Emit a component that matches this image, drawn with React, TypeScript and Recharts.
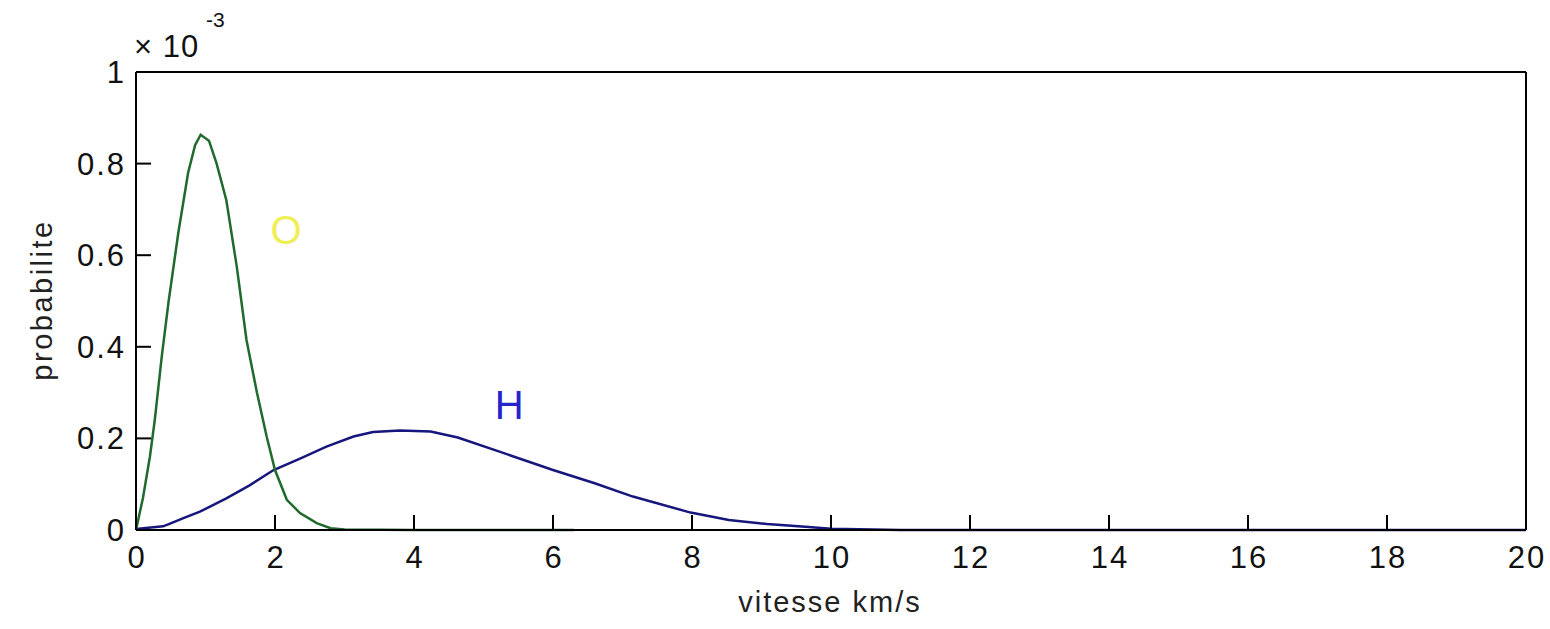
import React from 'react';
import { LineChart, Line, XAxis, YAxis, ReferenceDot } from 'recharts';

// speeds in km/s, probabilities in units of 1e-3
const oSpeed = [0, 0.1, 0.2, 0.27, 0.37, 0.47, 0.61, 0.75, 0.85, 0.93, 1.05, 1.16, 1.3, 1.45, 1.59, 1.74, 1.88, 2.0, 2.17, 2.36, 2.6, 2.8, 3.0, 4.0, 5.0, 6.3];
const oProb = [0, 0.07, 0.16, 0.24, 0.378, 0.5, 0.65, 0.78, 0.84, 0.863, 0.85, 0.8, 0.72, 0.575, 0.415, 0.3, 0.204, 0.131, 0.066, 0.037, 0.015, 0.004, 0.001, 0, 0, 0];

const hSpeed = [0, 0.39, 0.49, 0.7, 0.92, 1.3, 1.64, 1.98, 2.36, 2.74, 3.13, 3.41, 3.8, 4.24, 4.63, 5.23, 6.0, 6.6, 7.15, 7.98, 8.53, 9.08, 9.63, 10, 11, 12, 14, 16, 18, 20];
const hProb = [0.002, 0.008, 0.014, 0.027, 0.04, 0.069, 0.098, 0.131, 0.156, 0.182, 0.204, 0.214, 0.217, 0.215, 0.202, 0.171, 0.131, 0.102, 0.073, 0.038, 0.022, 0.013, 0.007, 0.003, 0, 0, 0, 0, 0, 0];

const xTicks = [0, 2, 4, 6, 8, 10, 12, 14, 16, 18, 20];
const yTicks = [0, 0.2, 0.4, 0.6, 0.8, 1];

const oData = oSpeed.map((v, i) => ({ v, p: oProb[i] }));
const hData = hSpeed.map((v, i) => ({ v, p: hProb[i] }));

const FONT = '"Liberation Sans", Arial, sans-serif';
const TICK = 15;
const XMARGIN = 16;
const YMARGIN = 12;

const BottomTick = (props: any) => {
  const { x, y, payload } = props;
  return (
    <g>
      <line x1={x} x2={x} y1={y - XMARGIN} y2={y - XMARGIN - TICK} stroke="#000" strokeWidth={2} />
      <text x={x + 1} y={y} dy="0.71em" textAnchor="middle" fontSize={31} letterSpacing={2} fontFamily={FONT} fill="#111">
        {payload.value}
      </text>
    </g>
  );
};

const TopTick = (props: any) => {
  const { x, y } = props;
  return <line x1={x} x2={x} y1={y} y2={y + TICK} stroke="#000" strokeWidth={2} />;
};

const LeftTick = (props: any) => {
  const { x, y, payload } = props;
  return (
    <g>
      <line x1={x + YMARGIN} x2={x + YMARGIN + TICK} y1={y} y2={y} stroke="#000" strokeWidth={2} />
      <text x={x + 2} y={y} dy="0.355em" textAnchor="end" fontSize={31} letterSpacing={2} fontFamily={FONT} fill="#111">
        {payload.value}
      </text>
    </g>
  );
};

const RightTick = (props: any) => {
  const { x, y } = props;
  return <line x1={x} x2={x - TICK} y1={y} y2={y} stroke="#000" strokeWidth={2} />;
};

export default function App() {
  return (
    <div style={{ position: 'absolute', left: 0, top: 0, width: 1550, height: 629, background: '#fff' }}>
      <LineChart width={1550} height={629} margin={{ top: 70, right: 22, bottom: 0, left: 0 }}>
        <XAxis
          dataKey="v"
          type="number"
          domain={[0, 20]}
          ticks={xTicks}
          height={99}
          tickSize={0}
          tickMargin={XMARGIN}
          tickLine={false}
          tick={<BottomTick />}
          axisLine={{ stroke: '#000', strokeWidth: 2 }}
          allowDuplicatedCategory={false}
        />
        <XAxis
          xAxisId="top"
          orientation="top"
          dataKey="v"
          type="number"
          domain={[0, 20]}
          ticks={xTicks}
          height={2}
          tickSize={0}
          tickMargin={0}
          tickLine={false}
          tick={<TopTick />}
          axisLine={{ stroke: '#000', strokeWidth: 2 }}
        />
        <YAxis
          type="number"
          domain={[0, 1]}
          ticks={yTicks}
          width={136}
          tickSize={0}
          tickMargin={YMARGIN}
          tickLine={false}
          tick={<LeftTick />}
          axisLine={{ stroke: '#000', strokeWidth: 2 }}
        />
        <YAxis
          yAxisId="right"
          orientation="right"
          type="number"
          domain={[0, 1]}
          ticks={yTicks}
          width={2}
          tickSize={0}
          tickMargin={0}
          tickLine={false}
          tick={<RightTick />}
          axisLine={{ stroke: '#000', strokeWidth: 2 }}
        />
        <Line data={hData} dataKey="p" type="linear" stroke="#16167c" strokeWidth={2.5} dot={false} isAnimationActive={false} />
        <Line data={oData} dataKey="p" type="linear" stroke="#1f6a2c" strokeWidth={2.5} dot={false} isAnimationActive={false} />
        <ReferenceDot x={2.16} y={0.655} r={0} fill="none" stroke="none"
          label={{ value: 'O', fill: '#f0ee55', fontSize: 40, fontFamily: FONT, position: 'center' }} />
        <ReferenceDot x={5.37} y={0.273} r={0} fill="none" stroke="none"
          label={{ value: 'H', fill: '#2424cc', fontSize: 40, fontFamily: FONT, position: 'center' }} />
      </LineChart>
      <svg width={1550} height={629} style={{ position: 'absolute', left: 0, top: 0, pointerEvents: 'none' }}>
        <text x={134} y={57} fontSize={31} letterSpacing={1} fontFamily={FONT} fill="#111">× 10</text>
        <text x={206} y={27} fontSize={21} fontFamily={FONT} fill="#111">-3</text>
        <text x={830} y={612} textAnchor="middle" fontSize={29} letterSpacing={2} fontFamily={FONT} fill="#222">vitesse km/s</text>
        <text x={52} y={300} textAnchor="middle" fontSize={29} letterSpacing={2.5} fontFamily={FONT} fill="#222" transform="rotate(-90 52 300)">probabilite</text>
      </svg>
    </div>
  );
}
